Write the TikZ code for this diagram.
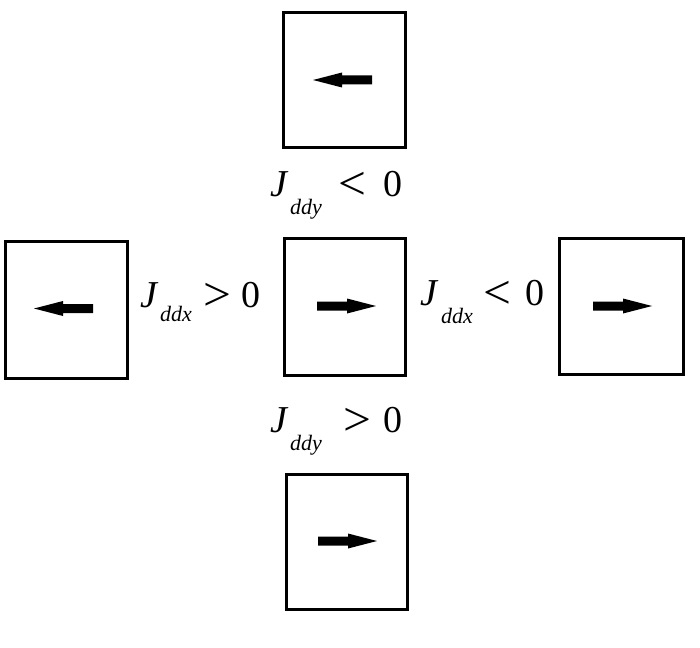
\documentclass[tikz,border=0pt]{standalone}
\usepackage{fontspec}
\usepackage{graphicx}
\setmainfont{Liberation Serif}
\newcommand\jlabel[7]{% sub, rel, w1, w2, w3, drop, value
\fontsize{38}{40}\selectfont\makebox[#3pt][l]{\itshape J}\makebox[#4pt][l]{\raisebox{-#6pt}{\fontsize{22}{24}\selectfont\itshape #1}}\makebox[#5pt][l]{\raisebox{-3.5pt}{\scalebox{1.3}[1.25]{#2}}}#7}
\begin{document}
\begin{tikzpicture}[x=1pt,y=-1pt,
  cell/.style={draw=black,line width=3pt,fill=white,inner sep=0pt},
  lab/.style={anchor=base west,inner sep=0pt,outer sep=0pt}]
\useasboundingbox (0,0) rectangle (700,647);
\fill[white] (0,0) rectangle (700,647);
% boxes
\node[cell,minimum width=122pt,minimum height=135pt] (top) at (344,80.5) {};
\node[cell,minimum width=122pt,minimum height=137pt] (left) at (66,309.5) {};
\node[cell,minimum width=121pt,minimum height=137pt] (mid) at (344.5,306.5) {};
\node[cell,minimum width=124pt,minimum height=136pt] (right) at (621,306) {};
\node[cell,minimum width=121pt,minimum height=135pt] (bot) at (346.5,541.5) {};
% arrows
\newcommand\larrow[2]{\fill[black] (#1,#2) -- (#1+29,#2-7.5) -- (#1+29,#2-4.5) -- (#1+59,#2-4.5) -- (#1+59,#2+4.5) -- (#1+29,#2+4.5) -- (#1+29,#2+7.5) -- cycle;}
\newcommand\rarrow[2]{\fill[black] (#1,#2) -- (#1-29,#2-7.5) -- (#1-29,#2-4.5) -- (#1-59,#2-4.5) -- (#1-59,#2+4.5) -- (#1-29,#2+4.5) -- (#1-29,#2+7.5) -- cycle;}
\larrow{313}{80}
\larrow{34}{308.5}
\rarrow{376}{306}
\rarrow{652}{306}
\rarrow{377}{541}
% labels
\node[lab] (ltop) at (270,196) {\jlabel{ddy}{<}{20}{48}{45}{18}{0}};
\node[lab] (lleft) at (140,307) {\jlabel{ddx}{>}{20}{43}{38}{14}{0}};
\node[lab] (lright) at (420,305) {\jlabel{ddx}{<}{21}{42}{42}{18}{0}};
\node[lab] (lbot) at (270,432) {\jlabel{ddy}{>}{20}{53}{40}{18}{0}};
\end{tikzpicture}
\end{document}
